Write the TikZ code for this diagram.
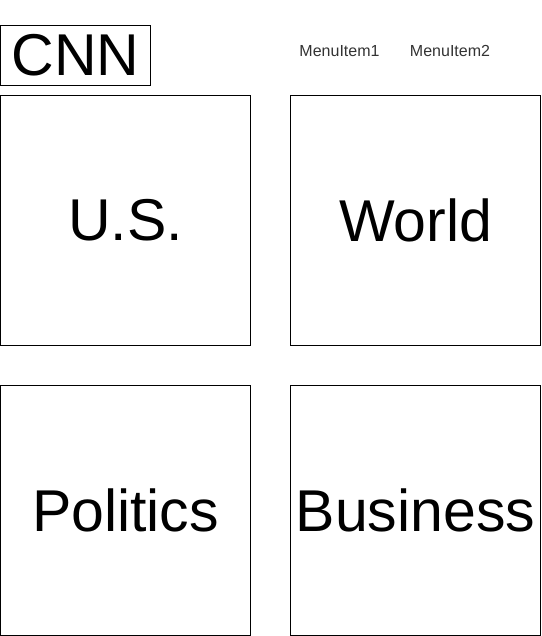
\documentclass[tikz,border=0pt]{standalone}
\usepackage{fontspec}
\setmainfont{Liberation Sans}
\definecolor{menugrey}{HTML}{333333}
\begin{document}
\begin{tikzpicture}[x=1pt,y=-1pt,
  tile/.style={draw=black,line width=1pt,minimum width=250pt,minimum height=250pt,inner sep=0pt,font=\fontsize{59}{60}\selectfont},
  logo/.style={draw=black,line width=1pt,minimum width=150pt,minimum height=60pt,inner sep=0pt,font=\fontsize{59}{60}\selectfont},
  menu/.style={text=menugrey,inner sep=0pt,font=\fontsize{16}{17}\selectfont}]
\useasboundingbox (0,0) rectangle (541,636);
\node[logo] (cnn) at (75.5,55.5) {CNN};
\node[menu] (m1) at (339.5,51) {MenuItem1};
\node[menu] (m2) at (450,51) {MenuItem2};
\node[tile] (us) at (125.5,220.5) {U.S.};
\node[tile] (world) at (415.5,220.5) {World};
\node[tile] (politics) at (125.5,510.5) {Politics};
\node[tile] (business) at (415.5,510.5) {Business};
\end{tikzpicture}
\end{document}
